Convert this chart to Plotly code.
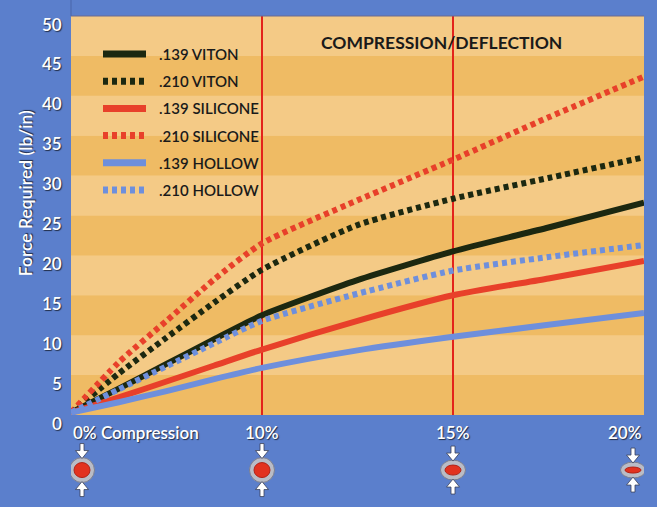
import plotly.graph_objects as go

# x axis is not linear: 0%, 10%, 15% and 20% sit at equal spacing,
# so the curves are stored against tick slot positions (0..3)
tick_pos = [0, 1, 2, 3]
tick_text = ["0% Compression", "10%", "15%", "20%"]
tick_align = ["left", "center", "center", "right"]

x_pos = [0, 0.25, 0.5, 0.75, 1, 1.5, 2, 2.5, 3]

viton_139 = [0.3, 3.3, 6.4, 9.5, 12.5, 16.9, 20.5, 23.5, 26.6]
viton_210 = [0.3, 5.2, 9.7, 14.1, 18.2, 23.8, 27.1, 29.7, 32.3]
silicone_139 = [0.3, 2.2, 4.2, 6.2, 8.2, 11.8, 15.0, 17.1, 19.3]
silicone_210 = [0.3, 6.6, 11.8, 17.0, 21.5, 26.9, 32.0, 37.3, 42.4]
hollow_139 = [0.3, 1.6, 3.0, 4.5, 5.9, 8.1, 9.8, 11.3, 12.8]
hollow_210 = [0.3, 3.2, 6.1, 9.0, 11.8, 15.2, 18.1, 19.8, 21.3]

y_ticks = [0, 5, 10, 15, 20, 25, 30, 35, 40, 45, 50]

# icon heights (px) - the o-ring gets squashed as compression goes up
icon_height = [25, 25, 20, 16]
icon_shift = [11, 0, 0, -11]

BLUE_BG = "#5b7fcc"
BAND_DARK = "#efbb64"
BAND_LIGHT = "#f4ca86"
FONT = "Lato"
SHADOW = "1px 1px 1px rgba(0,0,0,0.65)"
PLOT_H = 399  # px height of the plot area

series = [
    (".139 VITON", viton_139, "#1c2810", "solid"),
    (".210 VITON", viton_210, "#1c2810", "5px,4px"),
    (".139 SILICONE", silicone_139, "#e8402a", "solid"),
    (".210 SILICONE", silicone_210, "#e8402a", "5px,4px"),
    (".139 HOLLOW", hollow_139, "#6e8fdc", "solid"),
    (".210 HOLLOW", hollow_210, "#6e8fdc", "5px,4px"),
]

fig = go.Figure()
for name, vals, color, dash in series:
    fig.add_trace(
        go.Scatter(
            x=x_pos,
            y=vals,
            name=name,
            mode="lines",
            showlegend=False,
            line=dict(color=color, width=6, dash=dash, shape="spline", smoothing=0.6),
        )
    )

shapes = []
annotations = []

# horizontal bands
for i in range(len(y_ticks) - 1):
    shapes.append(
        dict(
            type="rect", xref="paper", yref="y", x0=0, x1=1,
            y0=y_ticks[i], y1=y_ticks[i + 1],
            fillcolor=BAND_DARK if i % 2 == 0 else BAND_LIGHT,
            line_width=0, layer="below",
        )
    )
# red guide lines at 10% and 15%
for p in tick_pos[1:3]:
    shapes.append(
        dict(type="line", xref="x", yref="paper", x0=p, x1=p, y0=0, y1=1,
             line=dict(color="#e3231b", width=2), layer="below")
    )
# frame bits
shapes.append(dict(type="line", xref="paper", yref="paper", x0=0, x1=1, y0=1, y1=1,
                   line=dict(color="#6a6a90", width=1)))
shapes.append(dict(type="line", xref="paper", yref="paper", x0=0, x1=0, y0=1, y1=1.05,
                   line=dict(color="#4a66aa", width=1)))

# hand-drawn legend (longer swatches than plotly's own)
for i, (name, vals, color, dash) in enumerate(series):
    ly = 1 - (38 + 27.2 * i) / PLOT_H
    shapes.append(dict(type="line", xref="paper", yref="paper",
                       x0=32 / 573, x1=75 / 573, y0=ly, y1=ly,
                       line=dict(color=color, width=7, dash=dash)))
    annotations.append(dict(x=86 / 573, y=ly, xref="paper", yref="paper", text=name,
                            showarrow=False, xanchor="left", yanchor="middle",
                            font=dict(family=FONT, size=15, color="#1a1a1a", weight=600)))

# o-ring icons under the axis
icon_y = -0.138
for p, h, s in zip(tick_pos, icon_height, icon_shift):
    common = dict(xref="x", yref="paper", xsizemode="pixel", ysizemode="pixel",
                  xanchor=p, yanchor=icon_y)
    shapes.append(dict(type="circle", x0=s - 12.5, x1=s + 12.5, y0=-h / 2, y1=h / 2,
                       fillcolor="#b9bcc6", line=dict(color="#7c7f90", width=1), **common))
    shapes.append(dict(type="circle", x0=s - 8, x1=s + 8, y0=-h / 2 + 5, y1=h / 2 - 5,
                       fillcolor="#e2321f", line=dict(color="#b02418", width=1), **common))
    top = h / 2 - 1
    for d in (1, -1):
        path = (f"M{s - 2},{d * (top + 15)} L{s + 2},{d * (top + 15)} "
                f"L{s + 2},{d * (top + 8)} L{s + 6.5},{d * (top + 8)} "
                f"L{s},{d * top} L{s - 6.5},{d * (top + 8)} L{s - 2},{d * (top + 8)} Z")
        shapes.append(dict(type="path", path=path, fillcolor="white",
                           line=dict(color="#3a4058", width=0.8), **common))

# axis labels
for p, t, a in zip(tick_pos, tick_text, tick_align):
    annotations.append(
        dict(x=p, y=0, xref="x", yref="paper", text=t, showarrow=False,
             xanchor=a, yanchor="top", yshift=-5,
             font=dict(family=FONT, size=17, color="white", weight=600, shadow=SHADOW))
    )
for v in y_ticks:
    annotations.append(
        dict(x=0, y=v, xref="paper", yref="y", text=str(v), showarrow=False,
             xanchor="right", yanchor="middle", xshift=-7, yshift=-8,
             font=dict(family=FONT, size=17, color="white", weight=600, shadow=SHADOW))
    )
annotations.append(
    dict(x=0, y=0.556, xref="paper", yref="paper", text="Force Required (lb/in)",
         showarrow=False, textangle=-90, xanchor="center", yanchor="middle", xshift=-46,
         font=dict(family=FONT, size=17.5, color="white", weight=600, shadow=SHADOW))
)
annotations.append(
    dict(x=0.433, y=1 - 26 / PLOT_H, xref="paper", yref="paper",
         text="COMPRESSION/DEFLECTION", showarrow=False, xanchor="left", yanchor="middle",
         font=dict(family=FONT, size=17.5, color="#1a1a1a", weight="bold"))
)

fig.update_layout(
    width=657,
    height=507,
    margin=dict(l=71, r=13, t=16, b=92),
    paper_bgcolor=BLUE_BG,
    plot_bgcolor=BAND_LIGHT,
    shapes=shapes,
    annotations=annotations,
    showlegend=False,
    xaxis=dict(range=[0, 3], showgrid=False, zeroline=False, showticklabels=False,
               fixedrange=True),
    yaxis=dict(range=[0, 50], showgrid=False, zeroline=False, showticklabels=False,
               fixedrange=True),
)

fig.write_html("out.html", config={"displayModeBar": False},
               post_script="document.body.style.margin='0px';")
